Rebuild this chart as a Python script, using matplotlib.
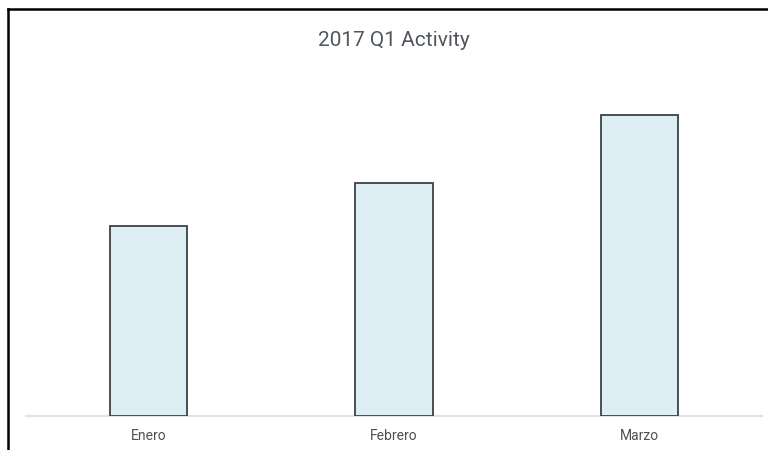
import matplotlib
matplotlib.use("Agg")
import matplotlib.pyplot as plt
from matplotlib.lines import Line2D

months = ["Enero", "Febrero", "Marzo"]
activity = [19.0, 23.3, 30.1]

plt.rcParams['font.family'] = ['Roboto', 'DejaVu Sans']

W, H = 768, 450
fig = plt.figure(figsize=(W / 100, H / 100), dpi=100)
fig.patch.set_facecolor("white")

# axes placed in pixel terms
left, right, bottom, top = 26, 762, 416, 60
ax = fig.add_axes([left / W, (H - bottom) / H, (right - left) / W, (bottom - top) / H])

x = range(len(months))
ax.bar(x, activity, width=0.314, color="#ddeff5", edgecolor="#3c4247", linewidth=1.3, zorder=2)

ax.set_xlim(-0.5, 2.5)
ax.set_ylim(0, 35.6)
ax.set_xticks(list(x))
ax.set_xticklabels(months, fontsize=10, color="#505050")
ax.tick_params(axis="x", length=0, pad=9)
ax.set_yticks([])
for s in ["left", "right", "top"]:
    ax.spines[s].set_visible(False)
ax.spines["bottom"].set_color("#e2e2e2")
ax.spines["bottom"].set_linewidth(1.6)
ax.spines["bottom"].set_zorder(1)

fig.text((left + right) / 2 / W, 1 - 40 / H, "2017 Q1 Activity", ha="center", va="center",
         fontsize=15, color="#50565b")

# black frame (top and left edges only)
fig.add_artist(Line2D([8 / W, 1], [1 - 9 / H, 1 - 9 / H], color="black", linewidth=1.8,
                      transform=fig.transFigure))
fig.add_artist(Line2D([8 / W, 8 / W], [0, 1 - 9 / H], color="black", linewidth=1.8,
                      transform=fig.transFigure))

fig.savefig("out.png", dpi=100)
